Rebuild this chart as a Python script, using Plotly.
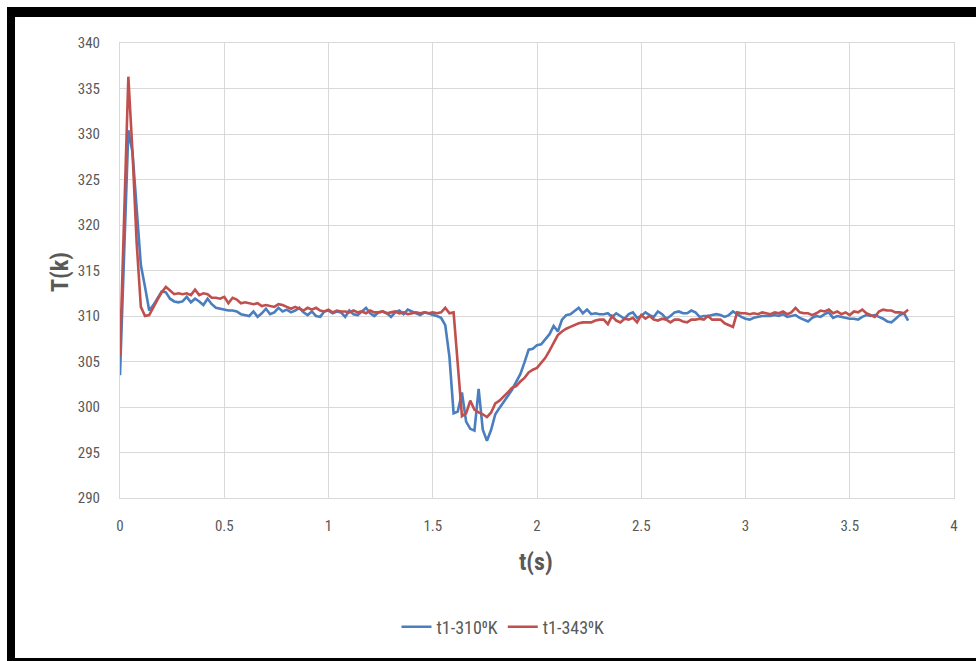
import plotly.graph_objects as go

# ---------------- data ----------------
time_s = [round(i * 0.02, 2) for i in range(190)]  # 0.00 ... 3.78 s sample times

t1_310K = [
    303.5, 316.0, 330.4, 328.0, 321.5, 315.6, 313.2, 310.6, 311.2, 312.0,   # 0.00-0.18
    312.7, 312.6, 311.9, 311.6, 311.5, 311.6, 312.1, 311.5, 311.9, 311.6,   # 0.20-0.38
    311.2, 311.9, 311.3, 310.9, 310.8, 310.7, 310.6, 310.6, 310.5, 310.2,   # 0.40-0.58
    310.1, 310.0, 310.5, 309.9, 310.3, 310.8, 310.2, 310.4, 310.9, 310.5,   # 0.60-0.78
    310.7, 310.4, 310.6, 310.9, 310.4, 310.1, 310.5, 310.0, 309.9, 310.5,   # 0.80-0.98
    310.6, 310.3, 310.5, 310.4, 309.9, 310.6, 310.2, 310.1, 310.5, 310.9,   # 1.00-1.18
    310.3, 310.0, 310.4, 310.5, 310.3, 309.9, 310.4, 310.6, 310.2, 310.7,   # 1.20-1.38
    310.5, 310.3, 310.1, 310.4, 310.3, 310.1, 310.0, 309.8, 309.0, 305.5,   # 1.40-1.58
    299.3, 299.5, 301.6, 298.4, 297.6, 297.4, 302.0, 297.5, 296.3, 297.5,   # 1.60-1.78
    299.2, 299.9, 300.5, 301.2, 301.9, 302.8, 303.6, 304.9, 306.3, 306.4,   # 1.80-1.98
    306.8, 306.9, 307.4, 308.0, 308.9, 308.3, 309.6, 310.1, 310.2, 310.6,   # 2.00-2.18
    310.9, 310.3, 310.7, 310.2, 310.3, 310.2, 310.2, 310.3, 309.9, 310.3,   # 2.20-2.38
    310.0, 309.7, 310.2, 310.4, 309.8, 310.0, 310.4, 310.1, 309.9, 310.5,   # 2.40-2.58
    310.2, 309.7, 310.0, 310.4, 310.5, 310.3, 310.3, 310.6, 310.4, 309.9,   # 2.60-2.78
    310.0, 310.0, 310.1, 310.2, 310.1, 309.9, 310.1, 310.5, 310.2, 309.9,   # 2.80-2.98
    309.7, 309.6, 309.8, 309.9, 310.0, 310.0, 310.0, 310.1, 310.0, 310.2,   # 3.00-3.18
    309.9, 310.0, 310.1, 309.8, 309.6, 309.4, 309.8, 310.0, 309.9, 310.2,   # 3.20-3.38
    310.4, 309.8, 310.0, 309.9, 309.8, 309.7, 309.7, 309.6, 309.9, 310.1,   # 3.40-3.58
    310.0, 310.1, 309.9, 309.7, 309.4, 309.3, 309.7, 310.1, 310.3, 309.5,   # 3.60-3.78
]

t1_343K = [
    305.7, 321.0, 336.3, 328.0, 318.0, 311.0, 310.0, 310.1, 311.0, 311.8,   # 0.00-0.18
    312.6, 313.2, 312.8, 312.4, 312.5, 312.4, 312.5, 312.3, 312.9, 312.3,   # 0.20-0.38
    312.5, 312.4, 312.0, 312.0, 311.9, 312.1, 311.4, 312.0, 311.8, 311.4,   # 0.40-0.58
    311.5, 311.4, 311.3, 311.4, 311.1, 311.2, 311.1, 311.0, 311.3, 311.2,   # 0.60-0.78
    311.0, 310.8, 311.0, 310.8, 310.6, 310.9, 310.7, 310.9, 310.6, 310.5,   # 0.80-0.98
    310.7, 310.4, 310.6, 310.5, 310.5, 310.4, 310.6, 310.4, 310.5, 310.3,   # 1.00-1.18
    310.6, 310.4, 310.4, 310.5, 310.3, 310.4, 310.5, 310.3, 310.4, 310.2,   # 1.20-1.38
    310.3, 310.4, 310.3, 310.4, 310.3, 310.4, 310.3, 310.4, 310.9, 310.3,   # 1.40-1.58
    310.4, 304.5, 299.0, 299.3, 300.7, 299.7, 299.4, 299.2, 298.9, 299.4,   # 1.60-1.78
    300.4, 300.7, 301.1, 301.6, 302.1, 302.3, 302.8, 303.2, 303.8, 304.1,   # 1.80-1.98
    304.3, 304.8, 305.4, 306.2, 307.0, 307.9, 308.3, 308.6, 308.8, 309.0,   # 2.00-2.18
    309.2, 309.3, 309.3, 309.3, 309.5, 309.6, 309.6, 309.1, 310.0, 309.5,   # 2.20-2.38
    309.3, 309.7, 309.6, 309.8, 309.3, 310.1, 309.7, 310.0, 309.6, 309.5,   # 2.40-2.58
    309.7, 309.6, 309.3, 309.6, 309.6, 309.4, 309.3, 309.6, 309.6, 309.7,   # 2.60-2.78
    309.6, 310.0, 309.6, 309.6, 309.6, 309.2, 309.0, 308.8, 310.4, 310.3,   # 2.80-2.98
    310.3, 310.2, 310.3, 310.2, 310.4, 310.3, 310.2, 310.4, 310.3, 310.5,   # 3.00-3.18
    310.2, 310.4, 310.9, 310.4, 310.3, 310.3, 310.1, 310.3, 310.6, 310.5,   # 3.20-3.38
    310.7, 310.3, 310.5, 310.2, 310.4, 310.1, 310.5, 310.4, 310.7, 310.3,   # 3.40-3.58
    310.1, 309.9, 310.5, 310.7, 310.6, 310.6, 310.4, 310.4, 310.3, 310.7,   # 3.60-3.78
]

series_names = ["t1-310\u2070K", "t1-343\u2070K"]
x_ticks = [0, 0.5, 1, 1.5, 2, 2.5, 3, 3.5, 4]
x_tick_text = ["0", "0.5", "1", "1.5", "2", "2.5", "3", "3.5", "4"]
y_ticks = [290, 295, 300, 305, 310, 315, 320, 325, 330, 335, 340]

# ---------------- figure ----------------
W, H = 976, 661
L, R, T, B = 120, 954, 43, 498   # plot area in pixels


def px(xp):
    return (xp - L) / (R - L)


def py(yp):
    return (B - yp) / (B - T)


FONT = "Liberation Sans Narrow, Arial Narrow, Roboto Condensed, Roboto, sans-serif"
GRAY = "#595959"

fig = go.Figure()
fig.add_trace(go.Scatter(x=time_s, y=t1_310K, mode="lines", name=series_names[0],
                         line=dict(color="#4a7ebf", width=2.6)))
fig.add_trace(go.Scatter(x=time_s, y=t1_343K, mode="lines", name=series_names[1],
                         line=dict(color="#c0504d", width=2.6)))

fig.update_layout(
    width=W, height=H,
    margin=dict(l=L, r=W - R, t=T, b=H - B),
    paper_bgcolor="white", plot_bgcolor="white",
    font=dict(family=FONT, color=GRAY, size=15),
    showlegend=True,
    legend=dict(orientation="h", x=px(503), y=py(627), xanchor="center", yanchor="middle",
                font=dict(family=FONT, size=18, color=GRAY), itemwidth=30,
                bgcolor="rgba(0,0,0,0)"),
)
fig.update_xaxes(range=[0, 4], tickvals=x_ticks, ticktext=x_tick_text,
                 showgrid=True, gridcolor="#d9d9d9", gridwidth=1,
                 showline=True, linecolor="#d9d9d9", linewidth=1, mirror=True,
                 zeroline=False, ticks="", ticklabelstandoff=14,
                 tickfont=dict(family=FONT, size=15, color=GRAY))
fig.update_yaxes(range=[290, 340], tickvals=y_ticks,
                 showgrid=True, gridcolor="#d9d9d9", gridwidth=1,
                 showline=True, linecolor="#d9d9d9", linewidth=1, mirror=True,
                 zeroline=False, ticks="", ticklabelstandoff=16,
                 tickfont=dict(family=FONT, size=15, color=GRAY))

# axis titles
fig.add_annotation(text="<b>t(s)</b>", xref="paper", yref="paper", x=px(536), y=py(562),
                   showarrow=False, font=dict(family=FONT, size=24, color=GRAY),
                   xanchor="center", yanchor="middle")
fig.add_annotation(text="<b>T(k)</b>", xref="paper", yref="paper", x=px(60), y=py(272),
                   showarrow=False, textangle=-90, font=dict(family=FONT, size=24, color=GRAY),
                   xanchor="center", yanchor="middle")

# black frame around the picture
for x0, y0, x1, y1 in [(7, 7, 980, 17), (7, 7, 15, 665), (7, 658, 980, 665)]:
    fig.add_shape(type="rect", xref="paper", yref="paper",
                  x0=px(x0), x1=px(x1), y0=py(y0), y1=py(y1),
                  fillcolor="black", line=dict(width=0), layer="above")

fig.write_html("out.html")
